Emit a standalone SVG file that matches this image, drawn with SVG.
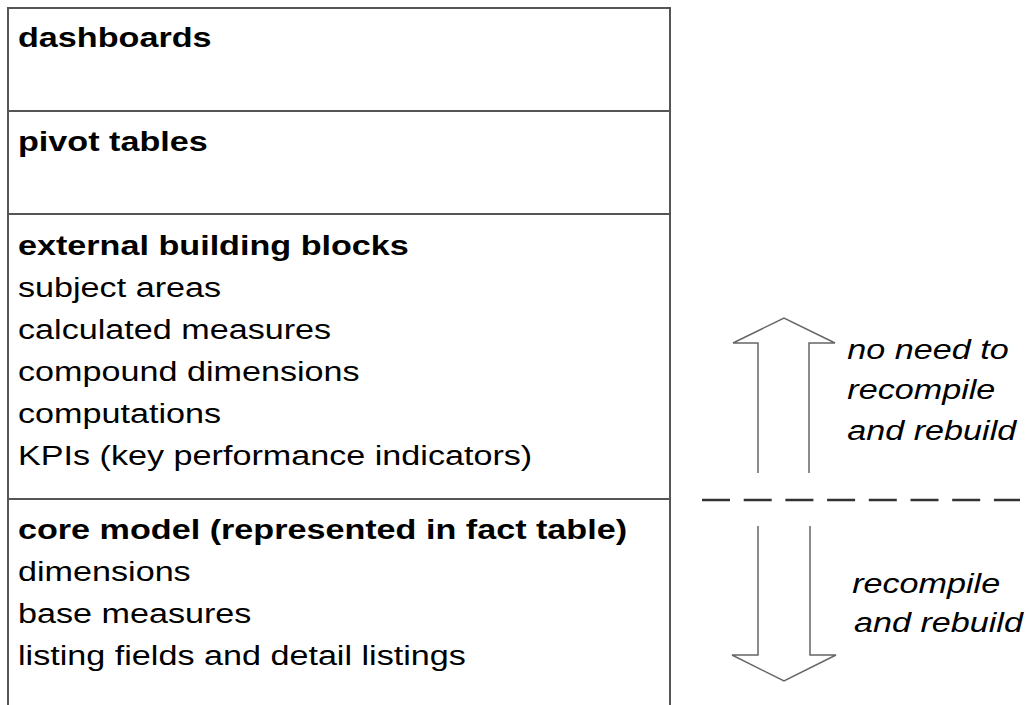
<svg xmlns="http://www.w3.org/2000/svg" width="1029" height="705" viewBox="0 0 1029 705">
<style>
.t{font-family:"Liberation Sans",Arial,sans-serif;font-size:28px;fill:#000}
.b{font-weight:bold}
.i{font-style:italic}
.box{fill:#fff;stroke:#555;stroke-width:2}
.arr{fill:none;stroke:#666;stroke-width:1.5}
</style>
<rect width="1029" height="705" fill="#fff"/>
<g id="layer-dashboards">
<path class="box" d="M8,111 V8 H670 V111"/>
<g transform="scale(1.22,1)"><text class="t b" x="14.75" y="47">dashboards</text></g>
</g>
<g id="layer-pivot">
<path class="box" d="M8,111 H670 M8,111 V214 M670,111 V214"/>
<g transform="scale(1.22,1)"><text class="t b" x="14.75" y="151">pivot tables</text></g>
</g>
<g id="layer-external">
<path class="box" d="M8,214 H670 M8,214 V499 M670,214 V499"/>
<g transform="scale(1.22,1)">
<text class="t b" x="14.75" y="255">external building blocks</text>
<text class="t" x="14.75" y="297">subject areas</text>
<text class="t" x="14.75" y="339">calculated measures</text>
<text class="t" x="14.75" y="381">compound dimensions</text>
<text class="t" x="14.75" y="423">computations</text>
<text class="t" x="14.75" y="465">KPIs (key performance indicators)</text>
</g>
</g>
<g id="layer-core">
<path class="box" d="M8,499 H670 M8,499 V705 M670,499 V705"/>
<g transform="scale(1.22,1)">
<text class="t b" x="14.75" y="539">core model (represented in fact table)</text>
<text class="t" x="14.75" y="581">dimensions</text>
<text class="t" x="14.75" y="623">base measures</text>
<text class="t" x="14.75" y="665">listing fields and detail listings</text>
</g>
</g>
<g id="connectors">
<path class="arr" d="M758,473 V343 H733 L784,318 L835,343 H809 V473"/>
<path class="arr" d="M758,526 V655 H732 L784,681 L836,655 H810 V526"/>
<line x1="702" y1="500" x2="1020" y2="500" stroke="#333" stroke-width="2.5" stroke-dasharray="28,13.7"/>
</g>
<g id="label-no-rebuild">
<g transform="scale(1.22,1)">
<text class="t i" x="694.5" y="359">no need to</text>
<text class="t i" x="694.5" y="399">recompile</text>
<text class="t i" x="694.5" y="440">and rebuild</text>
</g>
</g>
<g id="label-rebuild">
<g transform="scale(1.22,1)">
<text class="t i" x="698.5" y="593">recompile</text>
<text class="t i" x="700" y="632">and rebuild</text>
</g>
</g>
</svg>
